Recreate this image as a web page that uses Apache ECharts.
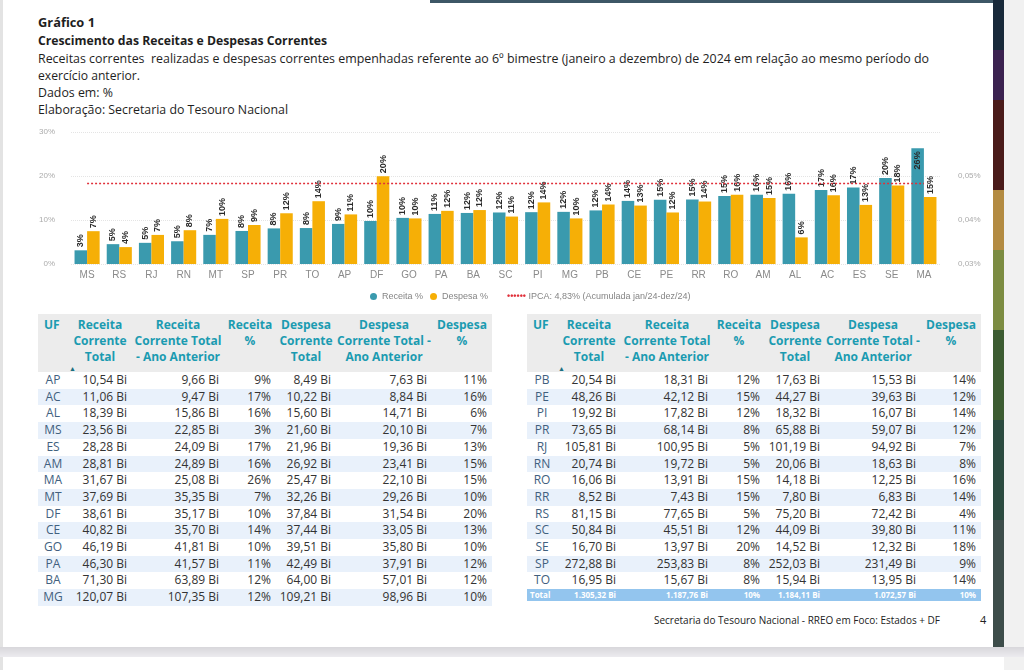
<!DOCTYPE html>
<html><head><meta charset="utf-8">
<script src="https://cdn.jsdelivr.net/npm/echarts@6/dist/echarts.min.js"></script>
<style>
html,body{margin:0;padding:0;width:1024px;height:670px;overflow:hidden;background:#fff;font-family:"Open Sans",sans-serif;}
.abs{position:absolute;}
.t{position:absolute;left:38px;white-space:nowrap;font-size:13px;color:#1e1e1e;line-height:16px;transform-origin:0 50%;display:inline-block;}
.b{font-weight:700;}
table{position:absolute;top:314px;border-collapse:collapse;table-layout:fixed;font-size:12px;color:#333;}
th{background:#ececec;color:#1b9bb1;font-weight:700;vertical-align:top;text-align:center;line-height:16px;padding:3px 0 0 0;height:55px;font-size:12px;}
th.uf{text-align:left;padding-left:6px;}
td{height:16.7px;padding:0 5px 0 0;text-align:right;line-height:16.7px;white-space:nowrap;overflow:hidden;}
td.uf{text-align:center;color:#41607e;padding:0;}
tr.alt td{background:#e9f1fb;}
tr.tot td{background:#93c5ee;color:#fff;font-weight:700;font-size:8px;height:12px;line-height:12px;}
tr.tot td.uf{text-align:left;padding-left:3px;color:#fff;}
#chart{position:absolute;left:0;top:120px;width:1024px;height:185px;}
</style>
</head><body>
<div id="page" class="abs" style="left:0;top:0;width:1024px;height:670px;">
  <div class="abs" style="left:0;top:0;width:3px;height:648px;background:#e3e3e3;"></div>
  <div class="abs" style="left:430px;top:0;width:564px;height:3px;background:#3d5766;"></div>
  <div class="abs" style="left:993px;top:0;width:11px;height:650px;background:linear-gradient(#18293a 0,#18293a 50px,#3b2250 50px,#3b2250 100px,#4a1b1a 100px,#4a1b1a 190px,#b38b42 190px,#b38b42 250px,#7c8c42 250px,#7c8c42 330px,#3c5c32 330px,#3c5c32 420px,#2b4a3f 420px,#2b4a3f 520px,#3d4d4a 520px,#3d4d4a 650px);"></div>
  <div class="abs" style="left:1004px;top:0;width:20px;height:670px;background:#f1f1f1;"></div>
  <div class="abs" style="left:0;top:647px;width:1024px;height:10px;background:linear-gradient(#d8d7db,#ecebef);"></div>
  <div class="abs" style="left:0;top:657px;width:3px;height:13px;background:#e3e3e3;"></div>

  <span class="t b fit" data-w="57" style="top:14px;">Gráfico 1</span>
  <span class="t b fit" data-w="289" style="top:32px;">Crescimento das Receitas e Despesas Correntes</span>
  <span class="t fit" data-w="891" style="top:50px;">Receitas correntes&nbsp; realizadas e despesas correntes empenhadas referente ao 6º bimestre (janeiro a dezembro) de 2024 em relação ao mesmo período do</span>
  <span class="t fit" data-w="102" style="top:67px;">exercício anterior.</span>
  <span class="t fit" data-w="75" style="top:84px;">Dados em: %</span>
  <span class="t fit" data-w="250" style="top:101px;">Elaboração: Secretaria do Tesouro Nacional</span>

  <div id="chart"></div>

  <div id="tables"></div>

  <span class="t fit" data-w="286" style="left:654px;top:612px;font-size:11px;color:#222;">Secretaria do Tesouro Nacional - RREO em Foco: Estados + DF</span>
  <span class="t" style="left:980px;top:612px;font-size:11px;color:#222;">4</span>
</div>
<script>
// ---------- chart data ----------
const categories = ['MS','RS','RJ','RN','MT','SP','PR','TO','AP','DF','GO','PA','BA','SC','PI','MG','PB','CE','PE','RR','RO','AM','AL','AC','ES','SE','MA'];
const receitaPct = [3.11,4.51,4.81,5.17,6.62,7.51,8.09,8.17,9.11,9.78,10.48,11.38,11.60,11.71,11.78,11.85,12.18,14.34,14.58,14.67,15.46,15.75,15.95,16.79,17.39,19.54,26.28];
const despesaPct = [7.46,3.84,6.61,7.68,10.25,8.87,11.53,14.27,11.27,19.97,10.36,12.08,12.26,10.78,14.00,10.36,13.52,13.28,11.71,14.20,15.76,14.99,6.05,15.61,13.43,17.86,15.25];
const ipcaValue = 0.0483;
const ipcaLabel = 'IPCA: 4,83% (Acumulada jan/24-dez/24)';
const leftTicks = [0,10,20,30];

// ---------- table data ----------
const headers = ['UF','Receita<br>Corrente<br>Total','Receita<br>Corrente Total<br>- Ano Anterior','Receita<br>%','Despesa<br>Corrente<br>Total','Despesa<br>Corrente Total -<br>Ano Anterior','Despesa<br>%'];
const ufLeft = ['AP','AC','AL','MS','ES','AM','MA','MT','DF','CE','GO','PA','BA','MG'];
const rctLeft = ['10,54 Bi','11,06 Bi','18,39 Bi','23,56 Bi','28,28 Bi','28,81 Bi','31,67 Bi','37,69 Bi','38,61 Bi','40,82 Bi','46,19 Bi','46,30 Bi','71,30 Bi','120,07 Bi'];
const rcaLeft = ['9,66 Bi','9,47 Bi','15,86 Bi','22,85 Bi','24,09 Bi','24,89 Bi','25,08 Bi','35,35 Bi','35,17 Bi','35,70 Bi','41,81 Bi','41,57 Bi','63,89 Bi','107,35 Bi'];
const rpLeft = ['9%','17%','16%','3%','17%','16%','26%','7%','10%','14%','10%','11%','12%','12%'];
const dctLeft = ['8,49 Bi','10,22 Bi','15,60 Bi','21,60 Bi','21,96 Bi','26,92 Bi','25,47 Bi','32,26 Bi','37,84 Bi','37,44 Bi','39,51 Bi','42,49 Bi','64,00 Bi','109,21 Bi'];
const dcaLeft = ['7,63 Bi','8,84 Bi','14,71 Bi','20,10 Bi','19,36 Bi','23,41 Bi','22,10 Bi','29,26 Bi','31,54 Bi','33,05 Bi','35,80 Bi','37,91 Bi','57,01 Bi','98,96 Bi'];
const dpLeft = ['11%','16%','6%','7%','13%','15%','15%','10%','20%','13%','10%','12%','12%','10%'];

const ufRight = ['PB','PE','PI','PR','RJ','RN','RO','RR','RS','SC','SE','SP','TO'];
const rctRight = ['20,54 Bi','48,26 Bi','19,92 Bi','73,65 Bi','105,81 Bi','20,74 Bi','16,06 Bi','8,52 Bi','81,15 Bi','50,84 Bi','16,70 Bi','272,88 Bi','16,95 Bi'];
const rcaRight = ['18,31 Bi','42,12 Bi','17,82 Bi','68,14 Bi','100,95 Bi','19,72 Bi','13,91 Bi','7,43 Bi','77,65 Bi','45,51 Bi','13,97 Bi','253,83 Bi','15,67 Bi'];
const rpRight = ['12%','15%','12%','8%','5%','5%','15%','15%','5%','12%','20%','8%','8%'];
const dctRight = ['17,63 Bi','44,27 Bi','18,32 Bi','65,88 Bi','101,19 Bi','20,06 Bi','14,18 Bi','7,80 Bi','75,20 Bi','44,09 Bi','14,52 Bi','252,03 Bi','15,94 Bi'];
const dcaRight = ['15,53 Bi','39,63 Bi','16,07 Bi','59,07 Bi','94,92 Bi','18,63 Bi','12,25 Bi','6,83 Bi','72,42 Bi','39,80 Bi','12,32 Bi','231,49 Bi','13,95 Bi'];
const dpRight = ['14%','12%','14%','12%','7%','8%','16%','14%','4%','11%','18%','9%','14%'];
const totalRow = ['Total','1.305,32 Bi','1.187,76 Bi','10%','1.184,11 Bi','1.072,57 Bi','10%'];

// ---------- tables ----------
const colW = [30,64,92,52,60,96,60];
function buildTable(left, cols, total){
  let h = '<table style="left:'+left+'px;width:'+colW.reduce((a,b)=>a+b,0)+'px"><colgroup>' + colW.map(w=>'<col style="width:'+w+'px">').join('') + '</colgroup>';
  h += '<tr>' + headers.map((t,i)=>'<th'+(i===0?' class="uf"':'')+'>'+t+'</th>').join('') + '</tr>';
  for(let r=0;r<cols[0].length;r++){
    h += '<tr'+(r%2===1?' class="alt"':'')+'>' + cols.map((c,i)=>'<td'+(i===0?' class="uf"':'')+'>'+c[r]+'</td>').join('') + '</tr>';
  }
  if(total){ h += '<tr class="tot">' + total.map((t,i)=>'<td'+(i===0?' class="uf"':'')+'>'+t+'</td>').join('') + '</tr>'; }
  h += '</table>';
  h += '<span class="abs" style="left:'+(left+31)+'px;top:364px;font-size:7px;color:#1b6f80;">▲</span>';
  return h;
}
document.getElementById('tables').innerHTML =
  buildTable(38,[ufLeft,rctLeft,rcaLeft,rpLeft,dctLeft,dcaLeft,dpLeft],null) +
  buildTable(527,[ufRight,rctRight,rcaRight,rpRight,dctRight,dcaRight,dpRight],totalRow);

// ---------- fit text widths ----------
function fit(){
  document.querySelectorAll('.fit').forEach(el=>{
    el.style.transform='none';
    const w = el.getBoundingClientRect().width;
    const target = +el.dataset.w;
    if(w>0) el.style.transform='scaleX('+(target/w)+')';
  });
}
fit();
if(document.fonts && document.fonts.ready) document.fonts.ready.then(fit);

// ---------- chart ----------
const chart = echarts.init(document.getElementById('chart'), null, {renderer:'canvas'});
const barLabel = {show:true, position:'top', rotate:90, align:'left', verticalAlign:'middle', distance:3,
  color:'#2a2a2a', fontSize:9, fontWeight:'bold', formatter:p=>Math.round(p.value)+'%'};
const receitaData = receitaPct.map((v,i)=> v>25 ? {value:v, label:{position:'insideTop', align:'right', distance:3}} : v);
chart.setOption({
  animation:false,
  grid:{left:71, width:869, top:12, height:132},
  legend:{
    left:365, top:167, itemWidth:7, itemHeight:7, itemGap:7,
    textStyle:{color:'#858585', fontSize:9, rich:{r:{color:'#e0303a', fontSize:9, fontWeight:'bold'}}},
    data:[{name:'Receita %', icon:'circle'},{name:'Despesa %', icon:'circle'},{name:ipcaLabel, icon:'none'}],
    formatter:n=> n===ipcaLabel ? '{r|••••••} '+n : n
  },
  xAxis:{type:'category', data:categories, axisLine:{show:false}, axisTick:{show:false},
    axisLabel:{color:'#8a8a8a', fontSize:10, margin:6, interval:0}},
  yAxis:[
    {type:'value', min:leftTicks[0], max:leftTicks[leftTicks.length-1], interval:10,
     axisLabel:{formatter:'{value}%', color:'#ababab', fontSize:8, margin:16},
     splitLine:{lineStyle:{color:'#e4e4e4', type:'dotted'}}, axisLine:{show:false}, axisTick:{show:false}},
    {type:'value', min:0.03, max:0.06, interval:0.01, position:'right',
     axisLabel:{formatter:v=> v>0.0595 ? '' : v.toFixed(2).replace('.',',')+'%', color:'#ababab', fontSize:8, margin:18},
     splitLine:{show:false}, axisLine:{show:false}, axisTick:{show:false}}
  ],
  series:[
    {name:'Receita %', type:'bar', data:receitaData, itemStyle:{color:'#3a9aae'}, barGap:'0%', barCategoryGap:'22%', label:barLabel},
    {name:'Despesa %', type:'bar', data:despesaPct, itemStyle:{color:'#f6af06'}, label:barLabel},
    {name:ipcaLabel, type:'line', yAxisIndex:1, data:categories.map(()=>ipcaValue), symbol:'none',
     lineStyle:{color:'#e0303a', width:1.5, type:[2,2]}, itemStyle:{color:'#e0303a'}}
  ]
});
</script>
</body></html>
